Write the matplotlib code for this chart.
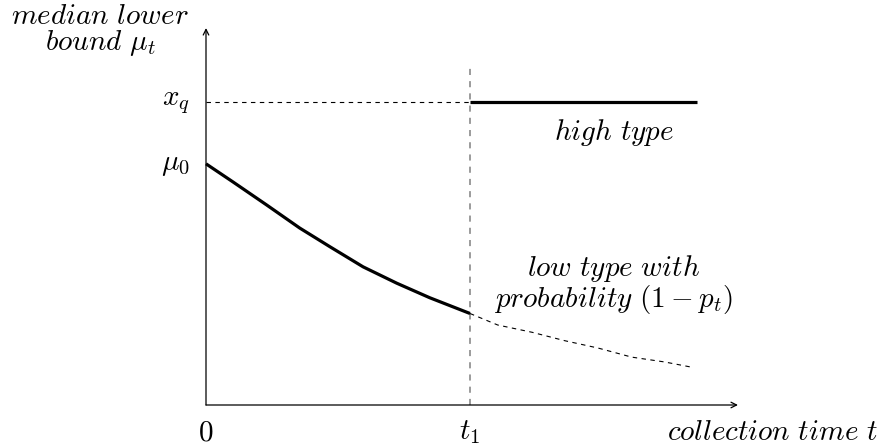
import matplotlib
matplotlib.use("Agg")
import matplotlib.pyplot as plt

plt.rcParams['mathtext.fontset'] = 'cm'
plt.rcParams['font.family'] = ['DejaVu Serif']

# data
low_t = [0.0, 0.41, 0.92, 1.42, 1.88, 2.38, 2.89, 3.39, 4.0]
low_mu = [3.98, 3.68, 3.30, 2.92, 2.61, 2.28, 2.01, 1.77, 1.51]
low_dash_t = [4.0, 4.42, 4.94, 5.44, 5.94, 6.45, 6.95, 7.33]
low_dash_mu = [1.51, 1.32, 1.20, 1.06, 0.94, 0.79, 0.71, 0.63]
high_t = [4.0, 7.44]
high_mu = [5.0, 5.0]
t1 = 4.0
x_q = 5.0
mu0 = 3.98
x_tick_labels = ['$0$', '$t_1$']
x_tick_pos = [0.0, t1]

fig = plt.figure(figsize=(8.81, 4.45), dpi=100)
ax = fig.add_axes([0, 0, 1, 1])
ax.set_xlim(-206/66, (881-206)/66)
ax.set_ylim(-40/60.6, 405/60.6)
ax.axis('off')

fs = 21
# axes with arrows
ax.annotate('', xy=(8.06, 0), xytext=(0, 0),
            arrowprops=dict(arrowstyle='->', lw=0.9, color='black', shrinkA=0, shrinkB=0))
ax.annotate('', xy=(0, 6.22), xytext=(0, 0),
            arrowprops=dict(arrowstyle='->', lw=0.9, color='black', shrinkA=0, shrinkB=0))

# guides
ax.plot([0, t1], [x_q, x_q], color='black', lw=0.8, ls=(0, (4, 4)))
ax.plot([t1, t1], [0, 5.6], color='#808080', lw=1.1, ls=(0, (4, 4)))

# curves
ax.plot(low_t, low_mu, color='black', lw=2.3, solid_capstyle='butt', solid_joinstyle='round')
ax.plot(low_dash_t, low_dash_mu, color='black', lw=0.8, ls=(0, (4, 4)))
ax.plot(high_t, high_mu, color='black', lw=2.3, solid_capstyle='butt')

# labels
for p, lab in zip(x_tick_pos, x_tick_labels):
    ax.text(p, -0.45, lab, ha='center', va='center', fontsize=fs)
ax.text((878-206)/66, -0.45, r'$collection\ time\ t$', ha='right', va='center', fontsize=fs)
ax.text(-0.24, x_q, r'$x_q$', ha='right', va='center', fontsize=fs)
ax.text(-0.24, mu0, r'$\mu_0$', ha='right', va='center', fontsize=fs)
ax.text((100-206)/66, (405-16)/60.6, r'$median\ lower$', ha='center', va='center', fontsize=fs)
ax.text((100-206)/66, (405-43)/60.6, r'$bound\ \mu_t$', ha='center', va='center', fontsize=fs)
ax.text((614-206)/66, (405-132)/60.6, r'$high\ type$', ha='center', va='center', fontsize=fs)
ax.text((614-206)/66, (405-268)/60.6, r'$low\ type\ with$', ha='center', va='center', fontsize=fs)
ax.text((613-206)/66, (405-300)/60.6, r'$probability\ (1-p_t)$', ha='center', va='center', fontsize=fs)

fig.savefig('out.png', dpi=100)
